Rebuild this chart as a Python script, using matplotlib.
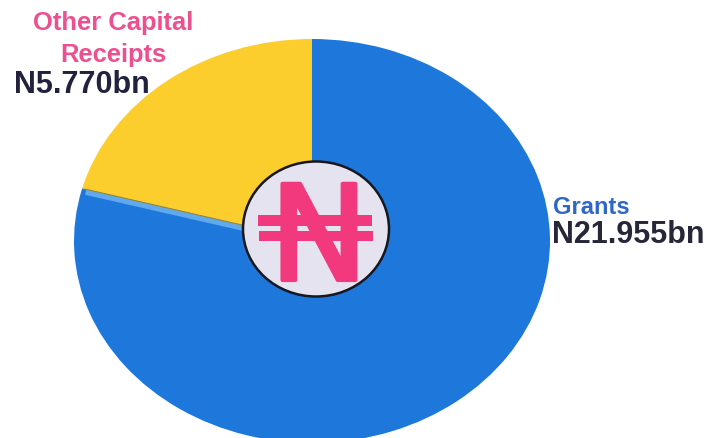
import numpy as np
import matplotlib
matplotlib.use("Agg")
import matplotlib.pyplot as plt
import matplotlib.patheffects as pe
from matplotlib.patches import Ellipse, Rectangle

# valores em bilhoes de naira
labels = ["Other Capital\nReceipts", "Grants"]
values = [5.770, 21.955]
value_labels = ["N5.770bn", "N21.955bn"]
colors = ["#FBCE2E", "#1E78DC"]

WIDTH, HEIGHT = 720, 439
PINK = "#F2397E"

plt.rcParams["font.family"] = ["Liberation Sans", "DejaVu Sans"]

fig = plt.figure(figsize=(WIDTH / 100, HEIGHT / 100), dpi=100)
fig.patch.set_facecolor("white")

# centro e raios da pizza achatada, em pixels
cx, cy, rx, ry = 312, 242, 238, 202

ax_pie = fig.add_axes([(cx - rx) / WIDTH, 1 - (cy + ry) / HEIGHT, 2 * rx / WIDTH, 2 * ry / HEIGHT])
ax_pie.pie(values, colors=colors, startangle=90, radius=1.0, wedgeprops=dict(linewidth=0))
ax_pie.set_xlim(-1, 1)
ax_pie.set_ylim(-1, 1)
ax_pie.set_aspect("auto")

# borda clara no topo do setor azul, logo abaixo do setor amarelo
ang = np.deg2rad(90 + 360 * values[0] / sum(values))
x_edge, y_edge = np.cos(ang), np.sin(ang)
ax_pie.plot([0, x_edge * 0.985], [-0.014, y_edge * 0.985 - 0.014], color="#5FA9EC", lw=4, solid_capstyle="butt")
ax_pie.plot([0, x_edge * 0.99], [0, y_edge * 0.99], color="#9A8424", lw=0.7, solid_capstyle="butt")

# camada em pixels para o circulo central e os textos
ax = fig.add_axes([0, 0, 1, 1])
ax.set_xlim(0, WIDTH)
ax.set_ylim(HEIGHT, 0)
ax.axis("off")

ax.add_patch(Ellipse((316, 230), 146, 135, facecolor="#E6E3F1", edgecolor="#17171F", linewidth=1.8))

# simbolo da naira: N engrossado com as duas barras horizontais
ax.text(319, 231, "N", color=PINK, fontsize=95, family="DejaVu Sans", ha="center", va="center_baseline",
        path_effects=[pe.withStroke(linewidth=3, foreground=PINK)])
ax.add_patch(Rectangle((258, 216), 114, 11, facecolor=PINK, edgecolor="none"))
ax.add_patch(Rectangle((259, 232), 114, 10, facecolor=PINK, edgecolor="none"))

ax.text(113, 39, labels[0], color="#EE4F8F", fontsize=18.4, fontweight="bold",
        ha="center", va="center", linespacing=1.42)
ax.text(14, 85, value_labels[0], color="#22223F", fontsize=22, fontweight="bold",
        ha="left", va="center")
ax.text(553, 208, labels[1], color="#2F66C8", fontsize=17, fontweight="bold",
        ha="left", va="center")
ax.text(552, 235, value_labels[1], color="#27273A", fontsize=22, fontweight="bold",
        ha="left", va="center")

fig.savefig("out.png", dpi=100)
